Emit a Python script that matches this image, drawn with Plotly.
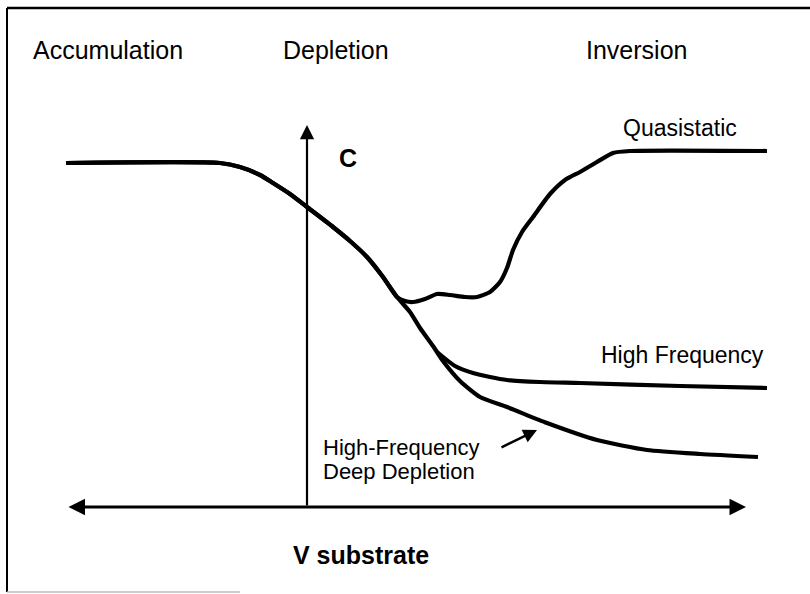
import plotly.graph_objects as go

# Schematic MOS C-V curves (arbitrary units; origin at the C axis / V axis crossing)
# Shared accumulation -> depletion segment
v_common = [-241, -87, -67, -47, -34, -17, 0, 26, 43, 60, 76, 90]
c_common = [344, 344, 340, 332, 324, 313, 300, 280, 266, 250, 230, 210]

# Quasistatic branch (inversion recovery)
v_qs = [98, 106, 118, 130, 143, 158, 170, 183, 193, 200, 206, 215, 226, 243, 258, 273, 290, 306, 323, 460]
c_qs = [206, 205, 208, 213, 212, 210, 210, 215, 225, 239, 257, 275, 290, 313, 327, 335, 345, 354, 356, 356]

# Deep-depletion branch
v_dd = [103, 113, 126, 136, 153, 173, 200, 240, 290, 340, 393, 451]
c_dd = [195, 179, 161, 146, 126, 110, 100, 84, 67, 57, 53, 50]

# High-frequency branch (leaves the deep-depletion curve)
v_hf = [130, 148, 166, 183, 200, 233, 273, 373, 460]
c_hf = [155, 141, 134, 130, 127, 125, 124, 121, 119]

# Axis extents
v_axis = [-240, 439]
c_axis_top = 382

font_reg = "Liberation Sans, Arial, Helvetica, sans-serif"
line = dict(color="black", width=4.2, shape="spline", smoothing=0.6)

fig = go.Figure()
fig.add_trace(go.Scatter(x=v_common + v_qs, y=c_common + c_qs, mode="lines", line=line, name="Quasistatic"))
fig.add_trace(go.Scatter(x=v_common + v_dd, y=c_common + c_dd, mode="lines", line=line, name="High-Frequency Deep Depletion"))
fig.add_trace(go.Scatter(x=v_hf, y=c_hf, mode="lines", line=line, name="High Frequency"))

ann = []
# horizontal double-headed axis arrow
ann.append(dict(x=v_axis[1], y=0, ax=v_axis[0], ay=0, xref="x", yref="y", axref="x", ayref="y",
                showarrow=True, arrowhead=2, startarrowhead=2, arrowside="end+start",
                arrowsize=1.1, startarrowsize=1.1, arrowwidth=3, arrowcolor="black", text=""))
# vertical C axis arrow
ann.append(dict(x=0, y=c_axis_top, ax=0, ay=0, xref="x", yref="y", axref="x", ayref="y",
                showarrow=True, arrowhead=2, arrowsize=1.3, arrowwidth=2.2, arrowcolor="black", text=""))
# pointer to deep depletion curve
ann.append(dict(x=230, y=77, ax=193, ay=59, xref="x", yref="y", axref="x", ayref="y",
                showarrow=True, arrowhead=2, arrowsize=1.1, arrowwidth=2.5, arrowcolor="black", text=""))

def txt(t, x, y, size, anchor="left", bold=False):
    ann.append(dict(text=("<b>%s</b>" % t) if bold else t, x=x, y=y, xref="x", yref="y",
                    showarrow=False, xanchor=anchor, yanchor="middle", borderpad=0,
                    font=dict(family=font_reg, size=size, color="black")))

txt("Accumulation", -275, 457, 25)
txt("Depletion", -25, 457, 25)
txt("Inversion", 278, 457, 25)
txt("Quasistatic", 315, 379, 23)
txt("C", 31, 349, 25, bold=True)
txt("High Frequency", 293, 152, 23)
txt("High-Frequency", 15, 60, 22)
txt("Deep Depletion", 15, 36, 22)
txt("V substrate", 54, -48, 25, anchor="center", bold=True)

fig.update_layout(
    width=810, height=594,
    margin=dict(l=0, r=0, t=0, b=0),
    paper_bgcolor="white", plot_bgcolor="white",
    showlegend=False,
    annotations=ann,
    xaxis=dict(range=[-307, 503], visible=False, fixedrange=True),
    yaxis=dict(range=[-87, 507], visible=False, fixedrange=True),
    shapes=[
        dict(type="line", xref="paper", yref="paper", x0=7/810, x1=1, y0=1-8/594, y1=1-8/594,
             line=dict(color="black", width=2.5)),
        dict(type="line", xref="paper", yref="paper", x0=7/810, x1=7/810, y0=1-8/594, y1=1-592/594,
             line=dict(color="black", width=2)),
        dict(type="line", xref="paper", yref="paper", x0=7/810, x1=240/810, y0=1-592/594, y1=1-592/594,
             line=dict(color="#bbbbbb", width=1.5)),
    ],
)

fig.write_html("out.html", config={"displayModeBar": False},
               post_script="document.body.style.margin='0';document.body.style.overflow='hidden';")
